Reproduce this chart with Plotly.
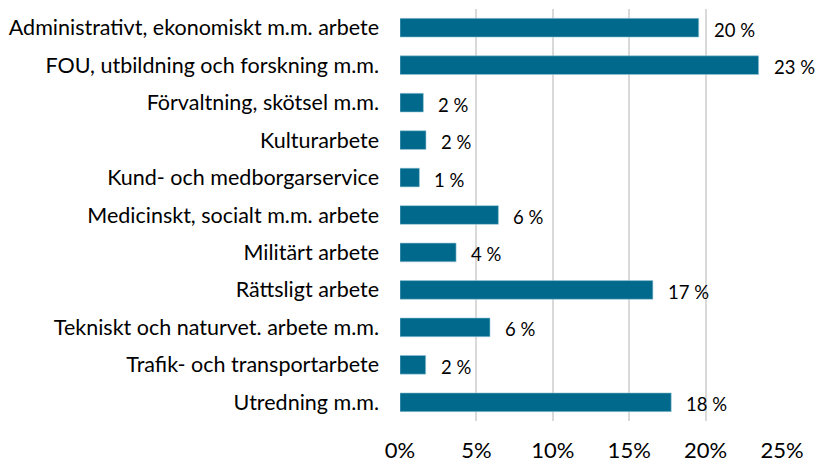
import plotly.graph_objects as go

categories = [
    "Administrativt, ekonomiskt m.m. arbete",
    "FOU, utbildning och forskning m.m.",
    "Förvaltning, skötsel m.m.",
    "Kulturarbete",
    "Kund- och medborgarservice",
    "Medicinskt, socialt m.m. arbete",
    "Militärt arbete",
    "Rättsligt arbete",
    "Tekniskt och naturvet. arbete m.m.",
    "Trafik- och transportarbete",
    "Utredning m.m.",
]
values = [19.55, 23.47, 1.53, 1.70, 1.27, 6.44, 3.67, 16.55, 5.89, 1.68, 17.75]
labels = ["20 %", "23 %", "2 %", "2 %", "1 %", "6 %", "4 %", "17 %", "6 %", "2 %", "18 %"]
tick_vals = [0, 5, 10, 15, 20, 25]
tick_text = ["0%", "5%", "10%", "15%", "20%", "25%"]

FONT = "Lato, 'Open Sans', sans-serif"
BAR = "#00698C"

fig = go.Figure()
fig.add_trace(go.Bar(
    x=values, y=categories, orientation="h",
    marker=dict(color=BAR, line=dict(color="#9CC9D8", width=0.6)),
    hoverinfo="x+y",
))

for v, c, t in zip(values, categories, labels):
    fig.add_annotation(x=v, y=c, text=t, showarrow=False, xanchor="left",
                       xshift=13, yshift=-2,
                       font=dict(family=FONT, size=18.5, color="#000000"))

fig.update_layout(
    width=818, height=462,
    margin=dict(l=400, r=36, t=9, b=41),
    plot_bgcolor="white", paper_bgcolor="white",
    bargap=0.5, showlegend=False,
    font=dict(family=FONT, color="#000000"),
)
fig.update_xaxes(
    range=[0, 25], tickvals=tick_vals, ticktext=tick_text,
    showgrid=True, gridcolor="#D9D9D9", gridwidth=2,
    zeroline=False, showline=False, automargin=False,
    tickfont=dict(family=FONT, size=22, color="#000000"),
    ticks="", ticklabelstandoff=14,
)
fig.update_yaxes(
    autorange="reversed", categoryorder="array", categoryarray=categories,
    showgrid=False, zeroline=False, showline=False, automargin=False,
    tickfont=dict(family=FONT, size=21.5, color="#000000"),
    ticks="", ticklabelstandoff=20,
)
fig.write_html(
    "out.html",
    config={"displayModeBar": False},
    post_script="document.body.style.margin='0';document.body.style.overflow='hidden';",
)
